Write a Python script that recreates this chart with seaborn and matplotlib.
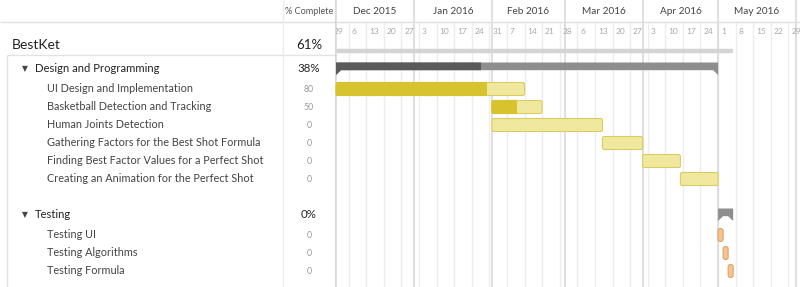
import matplotlib
matplotlib.use("Agg")
import matplotlib.pyplot as plt
import matplotlib.dates as mdates
from matplotlib.patches import FancyBboxPatch, Polygon, Rectangle
import seaborn as sns
import pandas as pd

# ---------------- data ----------------
project_name = "BestKet"
project_pct = 61
project_start = "2015-12-01"
project_end = "2016-05-07"

group_names = ["Design and Programming", "Testing"]
group_pct = [38, 0]
group_start = ["2015-12-01", "2016-05-01"]
group_end = ["2016-05-01", "2016-05-07"]

design_tasks = ["UI Design and Implementation",
                "Basketball Detection and Tracking",
                "Human Joints Detection",
                "Gathering Factors for the Best Shot Formula",
                "Finding Best Factor Values for a Perfect Shot",
                "Creating an Animation for the Perfect Shot"]
design_start = ["2015-12-01", "2016-02-01", "2016-02-01", "2016-03-16", "2016-04-01", "2016-04-16"]
design_end = ["2016-02-14", "2016-02-21", "2016-03-16", "2016-04-01", "2016-04-16", "2016-05-01"]
design_pct = [80, 50, 0, 0, 0, 0]

testing_tasks = ["Testing UI", "Testing Algorithms", "Testing Formula"]
testing_start = ["2016-05-01", "2016-05-03", "2016-05-05"]
testing_end = ["2016-05-03", "2016-05-05", "2016-05-07"]
testing_pct = [0, 0, 0]

week_ticks = pd.date_range("2015-11-29", "2016-05-29", freq="7D")
month_starts = pd.date_range("2015-12-01", "2016-06-01", freq="MS")
view_start = "2015-12-01"
view_end = "2016-06-02 14:00"

# ---------------- style ----------------
sns.set_theme(style="white")
plt.rcParams["font.family"] = ["Lato", "DejaVu Sans"]

W, H = 800, 287
SPLIT = 336
fig = plt.figure(figsize=(W / 100, H / 100), dpi=100)
fig.patch.set_facecolor("white")

axt = fig.add_axes([0, 0, SPLIT / W, 1])
axt.set_xlim(0, SPLIT)
axt.set_ylim(H, 0)
axt.axis("off")

ax = fig.add_axes([SPLIT / W, 0, (W - SPLIT) / W, 1])
x0v, x1v = mdates.date2num(pd.Timestamp(view_start)), mdates.date2num(pd.Timestamp(view_end))
ax.set_xlim(x0v, x1v)
ax.set_ylim(H, 0)
ax.axis("off")
px_per_day = (W - SPLIT) / (x1v - x0v)

def dn(d):
    return mdates.date2num(pd.Timestamp(d))

# grid
ax.vlines([dn(d) for d in week_ticks], 22, H, color="#ededed", lw=1, zorder=0)
ax.vlines([dn(d) for d in month_starts], 0, H, color="#d9d9d9", lw=1.2, zorder=0.5)
ax.axhline(21.5, color="#e0e0e0", lw=1, zorder=0.5)
for d in week_ticks:
    ax.text(dn(d) + 3 / px_per_day, 31, str(d.day), fontsize=6, color="#a8a8a8",
            ha="left", va="center", clip_on=True)
for i in range(len(month_starts) - 1):
    a = max(dn(month_starts[i]), x0v)
    b = min(dn(month_starts[i + 1]), x1v)
    ax.text((a + b) / 2, 11.5, month_starts[i].strftime("%b %Y"), fontsize=7.2,
            color="#444444", ha="center", va="center")

# table lines
axt.hlines(21.5, 0, SPLIT, color="#e0e0e0", lw=1)
axt.hlines(55, 7, SPLIT, color="#e3e3e3", lw=1)
axt.vlines(7, 55, H, color="#e3e3e3", lw=1)
axt.vlines(283, 0, H, color="#ececec", lw=1)
axt.vlines(SPLIT - 0.5, 0, H, color="#cfcfcf", lw=1.2)
axt.text(309, 12, "% Complete", fontsize=6.6, color="#555555", ha="center", va="center")

def rbar(x0, x1, yc, h, r_px, fc, ec="none", lw=0.8, clip_to=None, z=3):
    a, b = dn(x0), dn(x1)
    r_days = r_px / px_per_day
    p = FancyBboxPatch((a, yc - h / 2), b - a, h,
                       boxstyle=f"round,pad=0,rounding_size={r_days}",
                       mutation_aspect=r_px / r_days, fc=fc, ec=ec, lw=lw, zorder=z)
    ax.add_patch(p)
    if clip_to is not None:
        cr = Rectangle((a - 5, yc - h), clip_to - (a - 5), 2 * h, transform=ax.transData)
        p.set_clip_path(cr)
    return p

def summary(x0, x1, yc, pct, dark, light):
    a, b = dn(x0), dn(x1)
    top, bot, tip = yc - 6.5, yc + 1.2, yc + 6
    w = 5 / px_per_day
    pts = [(a, top), (b, top), (b, tip), (b - w, bot), (a + w, bot), (a, tip)]
    ax.add_patch(Polygon(pts, closed=True, fc=light, ec="none", zorder=3))
    if pct > 0:
        pd_ = Polygon(pts, closed=True, fc=dark, ec="none", zorder=4)
        ax.add_patch(pd_)
        cx = a + (b - a) * pct / 100
        pd_.set_clip_path(Rectangle((a - 5, top - 5), cx - a + 5, 20, transform=ax.transData))

# project row
y = 45
axt.text(12, y, project_name, fontsize=10, color="#222222", ha="left", va="center")
axt.text(309, y, f"{project_pct}%", fontsize=9.5, color="#222222", ha="center", va="center")
rbar(project_start, project_end, 51, 4.5, 2, "#d4d4d4")

groups = [
    (design_tasks, design_start, design_end, design_pct, "yellow"),
    (testing_tasks, testing_start, testing_end, testing_pct, "orange"),
]
gy = 69
for gi, (tasks, starts, ends, pcts, kind) in enumerate(groups):
    axt.text(22, gy, "▼", fontsize=5.5, color="#444444", ha="left", va="center",
             family=["DejaVu Sans"])
    axt.text(35, gy, group_names[gi], fontsize=8.1, color="#222222", ha="left", va="center")
    axt.text(309, gy, f"{group_pct[gi]}%", fontsize=8.3, color="#222222", ha="center", va="center")
    summary(group_start[gi], group_end[gi], gy, group_pct[gi], "#5a5a5a", "#8e8e8e")
    ty = gy + 20
    for t, s, e, p in zip(tasks, starts, ends, pcts):
        axt.text(47, ty, t, fontsize=7.8, color="#444444", ha="left", va="center")
        axt.text(309, ty, str(p), fontsize=6.3, color="#9a9a9a", ha="center", va="center")
        if kind == "yellow":
            rbar(s, e, ty, 13, 2, "#f1e8a0", ec="#d9cd60")
            if p > 0:
                a, b = dn(s), dn(e)
                rbar(s, e, ty, 13, 2, "#d6c32e", ec="#d6c32e",
                     clip_to=a + (b - a) * p / 100, z=4)
        else:
            rbar(s, e, ty, 13, 2.4, "#f6c493", ec="#e3a264")
        last = ty
        ty += 18
    gy = last + 36

fig.savefig("out.png", dpi=100, facecolor="white")
